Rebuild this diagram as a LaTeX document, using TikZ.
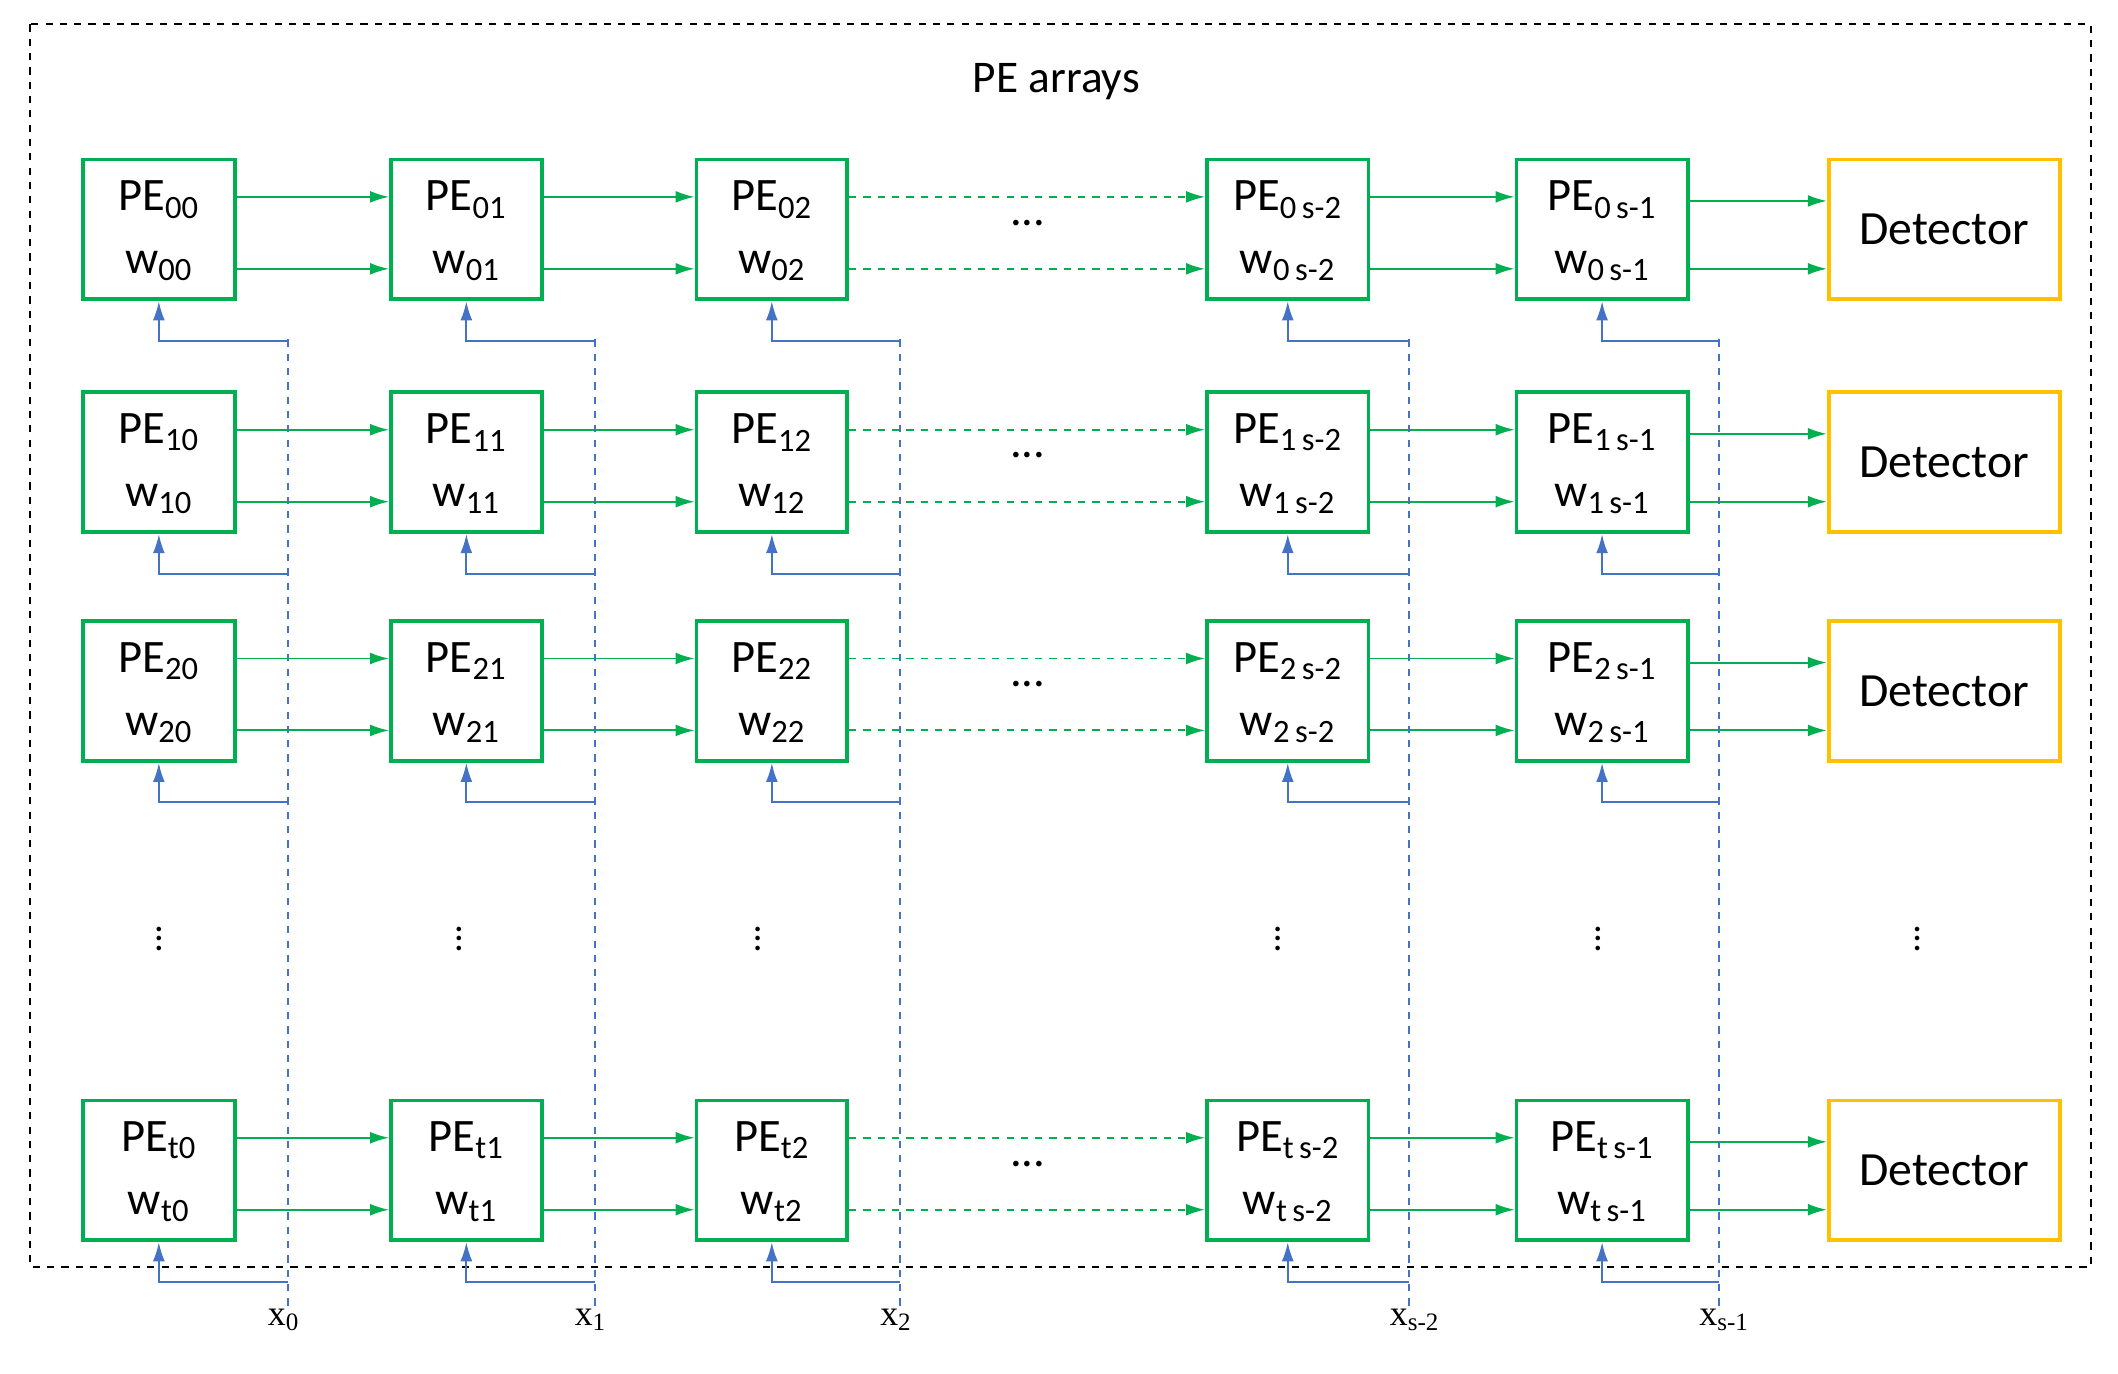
\documentclass[tikz,border=0pt]{standalone}
\usepackage{fontspec}
\setmainfont{Carlito}
\newfontfamily\serifx{Liberation Serif}
\usetikzlibrary{arrows.meta}
\definecolor{gr}{HTML}{00B050}
\definecolor{og}{HTML}{FFC000}
\definecolor{bl}{HTML}{4472C4}
\begin{document}
\begin{tikzpicture}[x=0.02cm,y=-0.02cm,
 pe/.style={draw=gr,line width=1.6pt,minimum width=#1*0.02cm,minimum height=103*0.02cm,inner sep=0pt},
 det/.style={draw=og,line width=1.6pt,minimum width=170*0.02cm,minimum height=103*0.02cm,font=\fontsize{20}{22}\selectfont},
 ga/.style={gr,line width=0.8pt,-{Latex[length=8pt,width=5pt]}},
 gd/.style={ga,dashed},
 ba/.style={bl,line width=0.8pt,-{Latex[length=8pt,width=5pt]}},
 vl/.style={bl,line width=0.8pt,dashed},
 tx/.style={font=\fontsize{19.5}{20}\selectfont,inner sep=0pt},
 dt/.style={font=\fontsize{16}{16}\selectfont,inner sep=0pt},
 xl/.style={font=\fontsize{15}{18}\selectfont\serifx,anchor=north,inner sep=1pt}]
\useasboundingbox (0,0) rectangle (1560,1012);
\draw[dashed,line width=0.8pt] (22,18) rectangle (1540,933);
\node[font=\fontsize{19}{20}\selectfont] (title) at (778,60) {PE arrays};
\foreach \r/\y in {0/169,1/340.5,2/509,t/862}{
 \foreach \c/\x/\w/\v/\cc in {0/117/112/212/0,1/343.5/111/438/1,2/568.5/111/663/2,3/948.5/119/1038/{\,s-2},4/1180/126/1266/{\,s-1}}{
  \node[pe=\w] (b\r\c) at (\x,\y) {};
  \node[tx] (p\r\c) at (\x,\y-22) {PE\textsubscript{\r\cc}};
  \node[tx] (q\r\c) at (\x,\y+27) {w\textsubscript{\r\cc}};
  \coordinate (f\r\c) at (\v,\y+82);
  \draw[ba] (f\r\c) -| (b\r\c.south);
 }
 \node[det] (d\r) at (1432,\y) {Detector};
 \foreach \a/\b in {0/1,1/2,3/4}{
  \draw[ga] (b\r\a.east|-0,\y-24) -- (b\r\b.west|-0,\y-24);
  \draw[ga] (b\r\a.east|-0,\y+29) -- (b\r\b.west|-0,\y+29);
 }
 \draw[gd] (b\r2.east|-0,\y-24) -- (b\r3.west|-0,\y-24);
 \draw[gd] (b\r2.east|-0,\y+29) -- (b\r3.west|-0,\y+29);
 \draw[ga] (b\r4.east|-0,\y-21) -- (d\r.west|-0,\y-21);
 \draw[ga] (b\r4.east|-0,\y+29) -- (d\r.west|-0,\y+29);
 \node[tx] (e\r) at (757,\y-5) {...};
}
\foreach \c/\v/\dx/\l in {0/212/-3/0,1/438/-3/1,2/663/-3/2,3/1038/4/s-2,4/1266/4/s-1}{
 \coordinate (t\c) at (\v,250);
 \node[xl] (x\c) at (\v+\dx,962) {x\textsubscript{\l}};
 \draw[vl] (t\c) -- (\v,962);
}
\foreach \i/\x in {0/117,1/338,2/558,3/941,4/1177,5/1412}{
 \node[dt] (vd\i) at (\x,686) {$\vdots$};
}
\end{tikzpicture}
\end{document}
